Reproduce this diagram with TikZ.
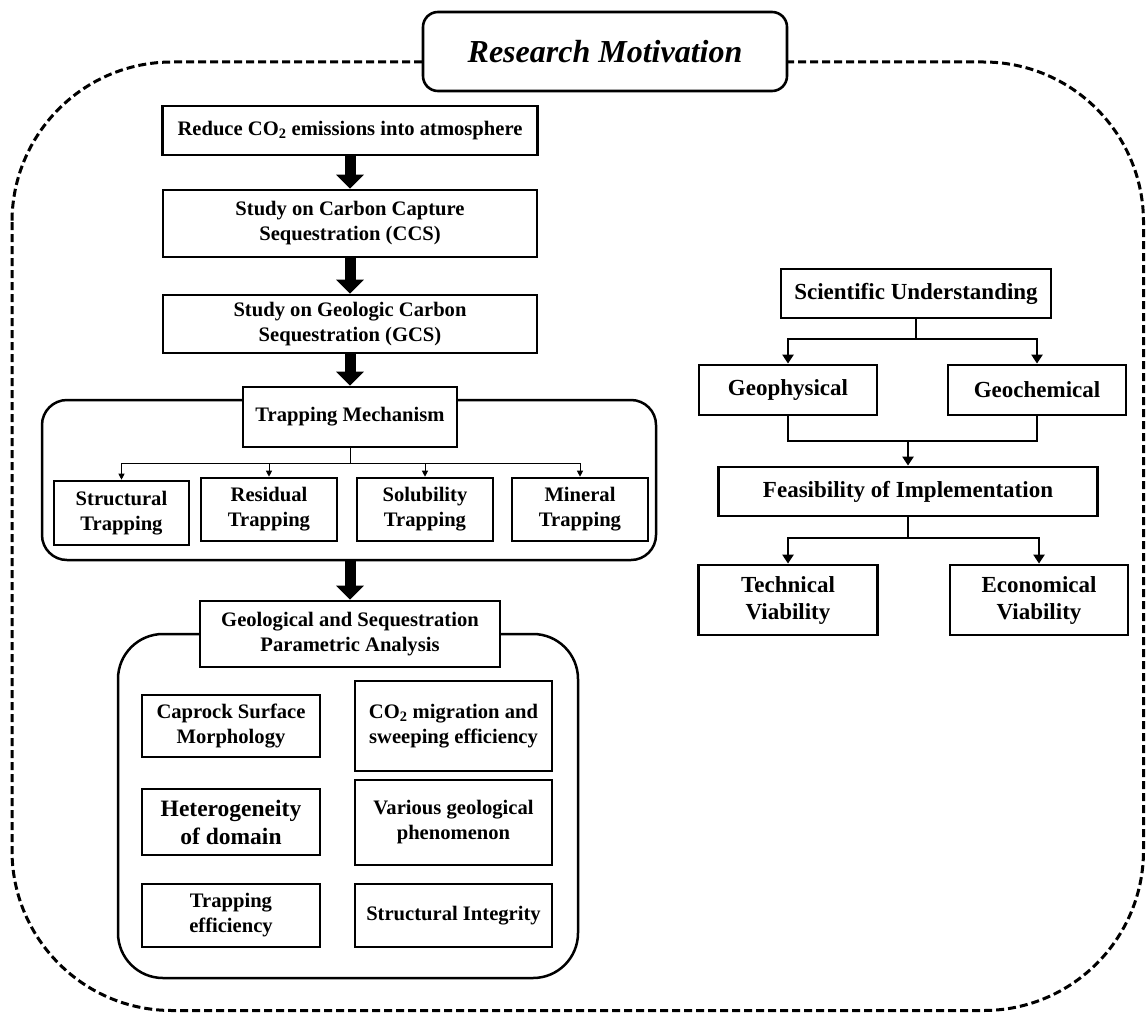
\documentclass[tikz,border=0pt]{standalone}
\usepackage{fontspec}
\setmainfont{Liberation Serif}
\usetikzlibrary{arrows.meta}
\begin{document}
\begin{tikzpicture}[x=1pt,y=-1pt,
  box/.style={draw, line width=2.6pt, fill=white, align=center, inner sep=0pt,
    font=\fontsize{20.6}{25}\selectfont\bfseries},
  rbox/.style={draw, line width=2.8pt, fill=white, align=center, inner sep=0pt,
    font=\fontsize{23}{27}\selectfont\bfseries},
  titlebox/.style={draw, line width=2.6pt, fill=white, rounded corners=15pt, inner sep=0pt,
    minimum width=364pt, minimum height=79pt, font=\fontsize{32}{38}\selectfont\bfseries\itshape},
  container/.style={draw, line width=2.5pt, inner sep=0pt},
  frame/.style={draw, line width=3pt, dash pattern=on 8pt off 4pt, rounded corners=160pt},
  bigarrow/.style={line width=11pt, -{Triangle[length=14pt,width=27pt]}},
  link/.style={line width=2.8pt},
  linkarrow/.style={line width=2.8pt, -{Triangle[length=9pt,width=11pt]}},
  thinline/.style={line width=1pt},
  thinarrow/.style={line width=1pt, -{Triangle[length=6pt,width=6pt]}},
]
\useasboundingbox (0,0) rectangle (1147,1014);

% outer dashed frame and title
\draw[frame] (12,62) rectangle (1143.5,1010.5);
\node[titlebox] (title) at (605,51.5) {Research Motivation};

% left column
\node[box, minimum width=375pt, minimum height=49pt] (reduce) at (350,130.5)
  {Reduce CO\textsubscript{2} emissions into atmosphere};
\node[box, minimum width=374pt, minimum height=67pt] (ccs) at (350,223.5)
  {Study on Carbon Capture\\Sequestration (CCS)};
\node[box, minimum width=374pt, minimum height=58pt] (gcs) at (350,324)
  {Study on Geologic Carbon\\Sequestration (GCS)};

\node[container, rounded corners=25pt, minimum width=614pt, minimum height=160pt] (trapgroup) at (349,480) {};
\node[box, minimum width=214pt, minimum height=60pt] (trapmech) at (350,417) {Trapping Mechanism};
\node[box, minimum width=135pt, minimum height=64pt] (structural) at (121.5,513) {Structural\\Trapping};
\node[box, minimum width=136pt, minimum height=63pt] (residual) at (269,509.5) {Residual\\Trapping};
\node[box, minimum width=136pt, minimum height=63pt] (solubility) at (425,509.5) {Solubility\\Trapping};
\node[box, minimum width=136pt, minimum height=63pt] (mineral) at (580,509.5) {Mineral\\Trapping};

\node[container, rounded corners=45pt, minimum width=460pt, minimum height=344pt] (paramgroup) at (348,806) {};
\node[box, minimum width=300pt, minimum height=66pt] (geo) at (350,634)
  {Geological and Sequestration\\Parametric Analysis};
\node[box, minimum width=178pt, minimum height=62pt] (caprock) at (231,726)
  {Caprock Surface\\Morphology};
\node[box, minimum width=197pt, minimum height=90pt] (co2mig) at (453.5,726)
  {CO\textsubscript{2} migration and\\sweeping efficiency};
\node[box, minimum width=178pt, minimum height=66pt, font=\fontsize{23.5}{28}\selectfont\bfseries] (hetero) at (231,822)
  {Heterogeneity\\of domain};
\node[box, minimum width=197pt, minimum height=85pt] (various) at (453.5,822.5)
  {Various geological\\phenomenon};
\node[box, minimum width=178pt, minimum height=63pt] (trapeff) at (231,915.5)
  {Trapping\\efficiency};
\node[box, minimum width=197pt, minimum height=63pt] (structint) at (453.5,915.5)
  {Structural Integrity};

% left connectors
\draw[bigarrow] (reduce) -- (ccs);
\draw[bigarrow] (ccs) -- (gcs);
\draw[bigarrow] (gcs) -- (trapmech);
\draw[bigarrow] (trapgroup.south -| geo.north) -- (geo);

\coordinate (tj) at (350,463);
\draw[thinline] (trapmech) -- (tj);
\draw[thinarrow] (tj) -| (structural);
\draw[thinarrow] (tj) -| (residual);
\draw[thinarrow] (tj) -| (solubility);
\draw[thinarrow] (tj) -| (mineral);

% right column
\node[rbox, minimum width=270pt, minimum height=49pt] (sci) at (916,293.5) {Scientific Understanding};
\node[rbox, minimum width=178pt, minimum height=50pt] (geophys) at (788,390) {Geophysical};
\node[rbox, minimum width=178pt, minimum height=50pt] (geochem) at (1037,390) {Geochemical};
\node[rbox, minimum width=379pt, minimum height=49pt] (feas) at (908,491.5) {Feasibility of Implementation};
\node[rbox, minimum width=179pt, minimum height=70pt] (tech) at (788,600) {Technical\\Viability};
\node[rbox, minimum width=178pt, minimum height=70pt] (econ) at (1039,600) {Economical\\Viability};

\coordinate (sj) at (916,339);
\draw[link] (sci) -- (sj);
\draw[linkarrow] (sj) -| (geophys);
\draw[linkarrow] (sj) -| (geochem);

\coordinate (gj) at (908,441);
\draw[link] (geophys) |- (gj) -| (geochem);
\draw[linkarrow] (gj) -- (feas);

\coordinate (fj) at (908,538);
\draw[link] (feas) -- (fj);
\draw[linkarrow] (fj) -| (tech);
\draw[linkarrow] (fj) -| (econ);
\end{tikzpicture}
\end{document}
